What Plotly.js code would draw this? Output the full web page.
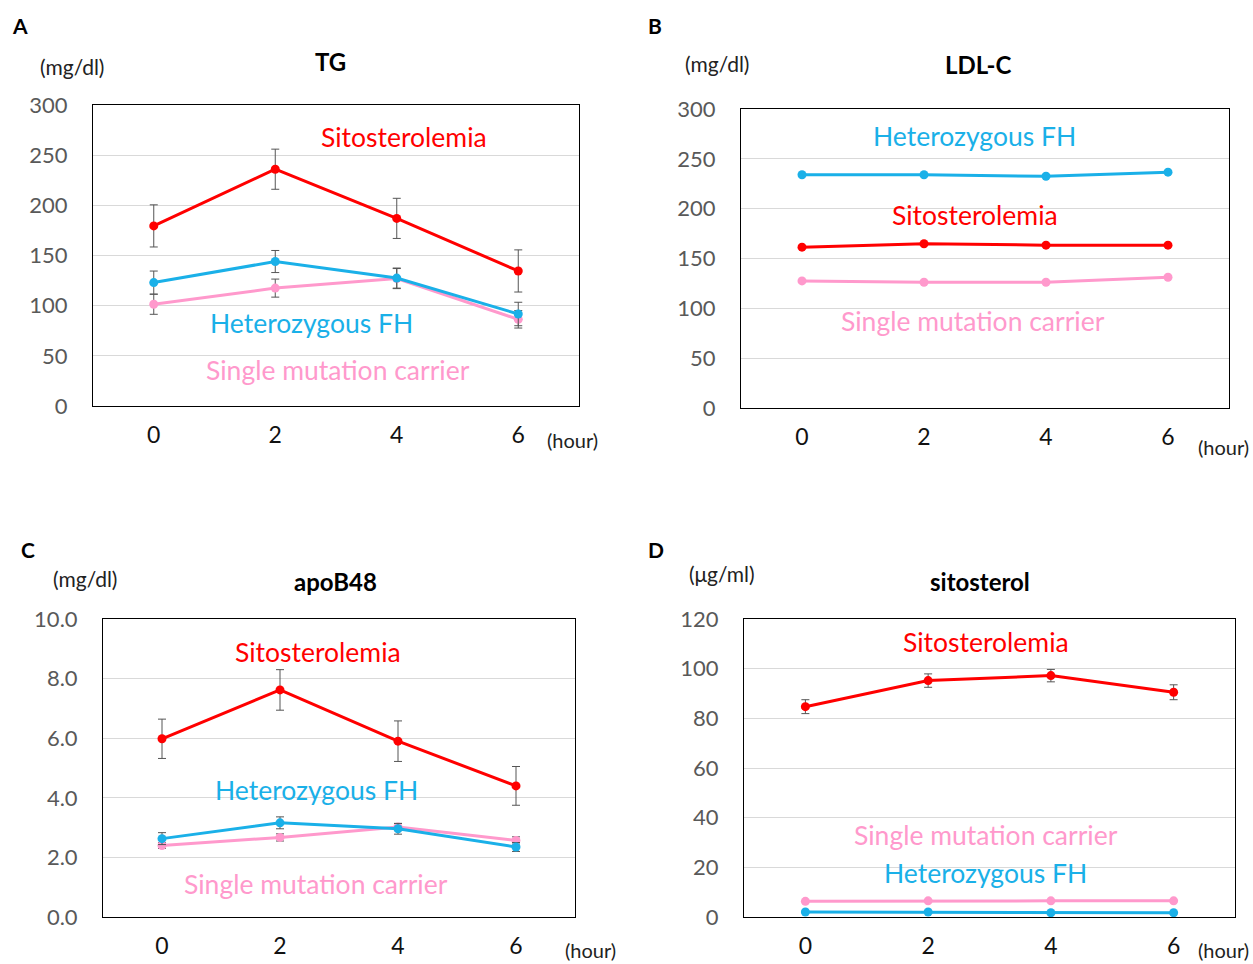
<!DOCTYPE html>
<html>
<head>
<meta charset="utf-8">
<script src="https://cdn.plot.ly/plotly-3.0.1.min.js"></script>
<style>html,body{margin:0;padding:0;background:#fff;}#chart{width:1253px;height:964px;}</style>
</head>
<body>
<div id="chart"></div>
<script>
// ---------- data ----------
const hours = [0, 2, 4, 6];
const hourTicks = ["0", "2", "4", "6"];

// A: TG (mg/dl)
const tgSito = [179.5, 236, 187, 134.6];
const tgSitoErr = [21, 20, 20, 21];
const tgHeFH = [123, 144, 127.5, 91.7];
const tgHeFHErr = [11.5, 11, 10, 11.7];
const tgCarrier = [101.4, 117.5, 127, 86.4];
const tgCarrierErr = [10, 9, 10, 8.7];

// B: LDL-C (mg/dl)
const ldlSito = [161.4, 164.8, 163.4, 163.4];
const ldlHeFH = [234, 234, 232.5, 236.6];
const ldlCarrier = [127.5, 126.2, 126.2, 131.2];

// C: apoB48 (mg/dl)
const b48Sito = [5.98, 7.62, 5.9, 4.4];
const b48SitoErr = [0.66, 0.68, 0.68, 0.65];
const b48HeFH = [2.63, 3.16, 2.96, 2.35];
const b48HeFHErr = [0.2, 0.2, 0.18, 0.15];
const b48Carrier = [2.4, 2.67, 3.02, 2.57];
const b48CarrierErr = [0.1, 0.12, 0.12, 0.12];

// D: sitosterol (μg/ml)
const sitoSito = [84.7, 95.2, 97.2, 90.5];
const sitoSitoErr = [2.8, 2.7, 2.5, 3];
const sitoHeFH = [2.0, 2.0, 1.7, 1.7];
const sitoCarrier = [6.3, 6.5, 6.5, 6.5];

const seriesNames = ["Sitosterolemia", "Heterozygous FH", "Single mutation carrier"];
const panelTitles = ["TG", "LDL-C", "apoB48", "sitosterol"];
const panelLetters = ["A", "B", "C", "D"];
const units = ["(mg/dl)", "(mg/dl)", "(mg/dl)", "(μg/ml)"];

// ---------- styling ----------
const W = 1253, H = 964;
const RED = "#ff0000", BLUE = "#1ab0e8", PINK = "#ff99cc";
const FONT = "Lato, 'Open Sans', sans-serif";
const px = x => x / W;
const py = y => 1 - y / H;

// frames in pixels [left, right, top, bottom]
const frames = [
  [93, 579, 105, 406],
  [741, 1229, 109, 408],
  [103, 575, 619, 917],
  [744, 1235, 619, 917]
];

function trace(ax, y, err, color) {
  const t = {
    x: hours, y: y, type: "scatter", mode: "lines+markers",
    xaxis: "x" + (ax === 1 ? "" : ax), yaxis: "y" + (ax === 1 ? "" : ax),
    line: {color: color, width: 3},
    marker: {color: color, size: 9},
    showlegend: false, hoverinfo: "x+y"
  };
  if (err) t.error_y = {type: "data", array: err, visible: true, color: "#555555", thickness: 1, width: 4};
  return t;
}

const data = [
  trace(1, tgCarrier, tgCarrierErr, PINK),
  trace(1, tgHeFH, tgHeFHErr, BLUE),
  trace(1, tgSito, tgSitoErr, RED),
  trace(2, ldlCarrier, null, PINK),
  trace(2, ldlSito, null, RED),
  trace(2, ldlHeFH, null, BLUE),
  trace(3, b48Carrier, b48CarrierErr, PINK),
  trace(3, b48HeFH, b48HeFHErr, BLUE),
  trace(3, b48Sito, b48SitoErr, RED),
  trace(4, sitoCarrier, null, PINK),
  trace(4, sitoHeFH, null, BLUE),
  trace(4, sitoSito, sitoSitoErr, RED)
];

const yRanges = [[0, 300], [0, 300], [0, 10], [0, 120]];
const yDtick = [50, 50, 2, 20];
const yFormat = ["", "", ".1f", ""];

const layout = {
  width: W, height: H,
  margin: {l: 0, r: 0, t: 0, b: 0},
  paper_bgcolor: "#ffffff", plot_bgcolor: "#ffffff",
  font: {family: FONT, color: "#000"},
  annotations: [], showlegend: false
};

frames.forEach((f, i) => {
  const k = i === 0 ? "" : String(i + 1);
  layout["xaxis" + k] = {
    domain: [px(f[0]), px(f[1])], anchor: "y" + k,
    range: [-1, 7], tickvals: hours, ticktext: hourTicks,
    showgrid: false, zeroline: false, showline: true, mirror: true,
    linecolor: "#000", linewidth: 1, ticks: "",
    ticklabelstandoff: 8,
    tickfont: {family: FONT, size: 23, color: "#111"}
  };
  layout["yaxis" + k] = {
    domain: [py(f[3]), py(f[2])], anchor: "x" + k,
    range: yRanges[i], dtick: yDtick[i], tick0: 0, tickformat: yFormat[i],
    showgrid: true, gridcolor: "#d9d9d9", gridwidth: 1,
    zeroline: false, showline: true, mirror: true,
    linecolor: "#000", linewidth: 1, ticks: "",
    ticklabelstandoff: 20,
    tickfont: {family: FONT, size: 22, color: "#595959"}
  };
});

function ann(text, x, y, opts) {
  layout.annotations.push(Object.assign({
    text: text, x: px(x), y: py(y), xref: "paper", yref: "paper",
    showarrow: false, xanchor: "center", yanchor: "middle",
    font: {family: FONT, size: 20, color: "#000"}
  }, opts || {}));
}

// panel letters, titles, units, hour labels
const letterPos = [[20, 25], [655, 25], [28, 549], [656, 549]];
const titlePos = [[330, 62], [978, 65], [335, 581], [980, 581]];
const unitPos = [[72, 67], [717, 64], [85, 578], [722, 573]];
const hourPos = [[572, 440], [1223, 447], [590, 950], [1223, 950]];
for (let i = 0; i < 4; i++) {
  ann("<b>" + panelLetters[i] + "</b>", letterPos[i][0], letterPos[i][1], {font: {family: FONT, size: 21, color: "#000"}});
  ann("<b>" + panelTitles[i] + "</b>", titlePos[i][0], titlePos[i][1], {font: {family: FONT, size: 24, color: "#000"}});
  ann(units[i], unitPos[i][0], unitPos[i][1], {font: {family: FONT, size: 21, color: "#222"}});
  ann("(hour)", hourPos[i][0], hourPos[i][1], {font: {family: FONT, size: 20, color: "#222"}});
}

// series labels
const labelColors = [RED, BLUE, PINK];
const labelPos = [
  [[404, 137], [311, 323], [338, 370]],
  [[975, 215], [974, 136], [973, 321]],
  [[318, 652], [316, 790], [316, 884]],
  [[986, 642], [985, 873], [986, 835]]
];
for (let i = 0; i < 4; i++) {
  for (let s = 0; s < 3; s++) {
    ann(seriesNames[s], labelPos[i][s][0], labelPos[i][s][1], {font: {family: FONT, size: 26.5, color: labelColors[s]}});
  }
}

Plotly.newPlot("chart", data, layout, {displayModeBar: false, staticPlot: true});
</script>
</body>
</html>
